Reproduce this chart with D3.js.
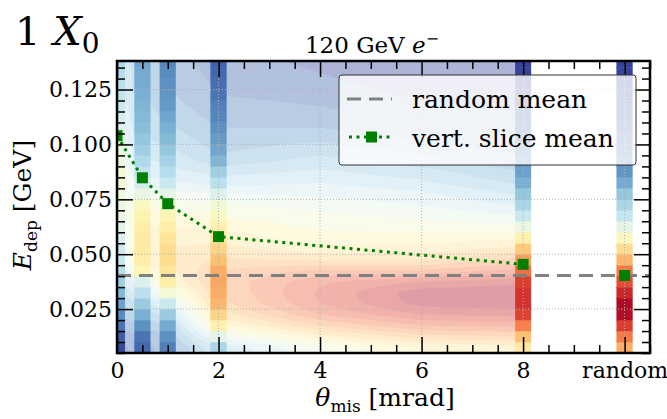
<!DOCTYPE html>
<html>
<head>
<meta charset="utf-8">
<script src="https://cdn.jsdelivr.net/npm/d3@7"></script>
<style>
  body { margin: 0; background: #fff; }
  text { font-family: "DejaVu Serif", serif; fill: #000; }
</style>
</head>
<body>
<div id="chart"></div>
<script>
// energy bins (GeV), bottom to top
const binEdges = [0.005, 0.010, 0.015, 0.020, 0.025, 0.030, 0.035, 0.040, 0.045, 0.050,
  0.055, 0.060, 0.065, 0.070, 0.075, 0.080, 0.085, 0.090, 0.095, 0.100,
  0.105, 0.110, 0.115, 0.120, 0.125, 0.130, 0.135, 0.140]

// colour level (0..1) per bin for every measured slice
const slice0 = [0.03, 0.06, 0.10, 0.14, 0.18, 0.23, 0.28, 0.32, 0.35, 0.37, 0.39, 0.41, 0.43, 0.44,
  0.45, 0.46, 0.46, 0.45, 0.44, 0.42, 0.40, 0.38, 0.36, 0.34, 0.33, 0.32, 0.31]
const slice05 = [0.08, 0.10, 0.15, 0.21, 0.27, 0.33, 0.40, 0.52, 0.55, 0.56, 0.56, 0.55, 0.53, 0.50,
  0.43, 0.38, 0.34, 0.31, 0.28, 0.26, 0.24, 0.23, 0.22, 0.21, 0.20, 0.20, 0.19]
const slice1 = [0.12, 0.15, 0.20, 0.27, 0.36, 0.46, 0.55, 0.58, 0.60, 0.60, 0.58, 0.55, 0.52, 0.48,
  0.42, 0.36, 0.32, 0.29, 0.26, 0.23, 0.21, 0.19, 0.17, 0.16, 0.15, 0.14, 0.13]
const slice2 = [0.30, 0.42, 0.54, 0.62, 0.68, 0.70, 0.71, 0.70, 0.66, 0.62, 0.58, 0.54, 0.50, 0.46,
  0.40, 0.33, 0.28, 0.22, 0.19, 0.17, 0.15, 0.13, 0.12, 0.10, 0.09, 0.08, 0.07]
const slice8 = [0.56, 0.66, 0.77, 0.87, 0.90, 0.90, 0.88, 0.80, 0.72, 0.64, 0.54, 0.44, 0.36, 0.30,
  0.26, 0.21, 0.18, 0.15, 0.12, 0.10, 0.08, 0.06, 0.05, 0.04, 0.03, 0.02, 0.02]
const sliceRandom = [0.70, 0.78, 0.88, 0.97, 0.98, 0.92, 0.85, 0.78, 0.68, 0.60, 0.50, 0.42, 0.35, 0.30,
  0.26, 0.20, 0.16, 0.13, 0.11, 0.09, 0.07, 0.05, 0.04, 0.03, 0.02, 0.02, 0.02]

// background (interpolated scan) columns
const bg4 = [0.45, 0.58, 0.70, 0.80, 0.85, 0.86, 0.84, 0.76, 0.64, 0.57, 0.52, 0.49, 0.46, 0.43,
  0.39, 0.35, 0.31, 0.27, 0.23, 0.19, 0.15, 0.12, 0.10, 0.08, 0.06, 0.05, 0.04]
const bg6 = [0.55, 0.68, 0.80, 0.90, 0.97, 0.98, 0.90, 0.76, 0.64, 0.57, 0.52, 0.48, 0.44, 0.40,
  0.36, 0.31, 0.27, 0.22, 0.18, 0.14, 0.11, 0.08, 0.06, 0.04, 0.03, 0.02, 0.02]
const bg8 = [0.58, 0.70, 0.82, 0.92, 0.98, 0.99, 0.94, 0.82, 0.72, 0.62, 0.54, 0.46, 0.40, 0.34,
  0.29, 0.24, 0.20, 0.16, 0.13, 0.10, 0.08, 0.06, 0.04, 0.03, 0.02, 0.02, 0.02]

const sliceX = [0, 0.5, 1, 2, 8, 10]
const sliceVals = [slice0, slice05, slice1, slice2, slice8, sliceRandom]
const bgX = [0, 0.5, 1, 2, 4, 6, 8]
const bgVals = [slice0, slice05, slice1, slice2, bg4, bg6, bg8]

// vertical slice means and random mean
const meanX = [0, 0.5, 1, 2, 8]
const meanY = [0.104, 0.0848, 0.073, 0.058, 0.0454]
const randomX = 10
const randomMean = 0.0403

const xTicks = [0, 2, 4, 6, 8, 10]
const xTickLabels = ['0', '2', '4', '6', '8', 'random']
const yTicks = [0.025, 0.05, 0.075, 0.1, 0.125]

const W = 667, H = 419
const margin = { top: 61, left: 117, right: 17, bottom: 66 }
const width = W - margin.left - margin.right
const height = H - margin.top - margin.bottom

const x = d3.scaleLinear().domain([0, 10.5]).range([0, width])
const y = d3.scaleLinear().domain([0.005, 0.138]).range([height, 0])
const color = t => d3.interpolateRdYlBu(1 - Math.max(0, Math.min(1, t)))

const svg = d3.select('#chart').append('svg').attr('width', W).attr('height', H)
const defs = svg.append('defs')
defs.append('clipPath').attr('id', 'plot')
  .append('rect').attr('width', width).attr('height', height)
defs.append('clipPath').attr('id', 'bgclip')
  .append('rect').attr('x', x(0)).attr('width', x(8) - x(0)).attr('height', height)

const g = svg.append('g').attr('transform', 'translate(' + margin.left + ',' + margin.top + ')')

// ---- background: contour fill of the scan, drawn at alpha 0.4
const centres = binEdges.slice(0, -1).map((e, i) => (e + binEdges[i + 1]) / 2)
function colAt(vals, yy) {
  if (yy <= centres[0]) return vals[0]
  if (yy >= centres[centres.length - 1]) return vals[vals.length - 1]
  const i = d3.bisectRight(centres, yy) - 1
  const t = (yy - centres[i]) / (centres[i + 1] - centres[i])
  return vals[i] * (1 - t) + vals[i + 1] * t
}
function bgAt(xx, yy) {
  let k = d3.bisectRight(bgX, xx) - 1
  k = Math.max(0, Math.min(bgX.length - 2, k))
  const t = (xx - bgX[k]) / (bgX[k + 1] - bgX[k])
  return colAt(bgVals[k], yy) * (1 - t) + colAt(bgVals[k + 1], yy) * t
}
const gdx = 0.05, gdy = 0.001
const gx = d3.range(0, 8 + gdx / 2, gdx)
const gy = d3.range(0.004, 0.1395, gdy)
const values = []
gy.forEach(yy => gx.forEach(xx => values.push(bgAt(xx, yy))))
const levels = [-1].concat(d3.range(1, 20).map(i => i / 20))
const contours = d3.contours().size([gx.length, gy.length]).thresholds(levels)(values)
const proj = d3.geoTransform({
  point: function(px, py) {
    this.stream.point(x(gx[0] + (px - 0.5) * gdx), y(gy[0] + (py - 0.5) * gdy))
  }
})
const cpath = d3.geoPath(proj)
g.append('g')
  .attr('clip-path', 'url(#bgclip)')
  .attr('opacity', 0.4)
  .selectAll('path')
  .data(contours)
  .join('path')
  .attr('d', cpath)
  .attr('fill', d => color(d.value < 0 ? 0.025 : d.value + 0.025))

// ---- measured slices
const hw = 0.155
const sg = g.append('g').attr('clip-path', 'url(#plot)')
sliceVals.forEach((vals, s) => {
  sg.append('g')
    .selectAll('rect')
    .data(vals)
    .join('rect')
    .attr('x', x(sliceX[s] - hw))
    .attr('width', x(sliceX[s] + hw) - x(sliceX[s] - hw))
    .attr('y', (d, i) => y(binEdges[i + 1]))
    .attr('height', (d, i) => y(binEdges[i]) - y(binEdges[i + 1]))
    .attr('fill', d => color(d))
    .attr('stroke', d => color(d))
    .attr('stroke-width', 0.4)
})

// ---- grid
const grid = g.append('g').attr('clip-path', 'url(#plot)')
  .attr('stroke', '#b0b0b0').attr('stroke-width', 1).attr('stroke-dasharray', '1,2')
grid.selectAll('.gx').data(xTicks).join('line')
  .attr('x1', d => x(d)).attr('x2', d => x(d)).attr('y1', 0).attr('y2', height)
grid.selectAll('.gy').data(yTicks).join('line')
  .attr('y1', d => y(d)).attr('y2', d => y(d)).attr('x1', 0).attr('x2', width)

// ---- random mean line
g.append('line')
  .attr('x1', 0).attr('x2', width)
  .attr('y1', y(randomMean)).attr('y2', y(randomMean))
  .attr('stroke', '#808080').attr('stroke-width', 3).attr('stroke-dasharray', '14,8')

// ---- slice means
const mg = g.append('g').attr('clip-path', 'url(#plot)')
const line = d3.line().x(d => x(d[0])).y(d => y(d[1]))
mg.append('path')
  .datum(meanX.map((d, i) => [d, meanY[i]]))
  .attr('d', line)
  .attr('fill', 'none')
  .attr('stroke', 'green')
  .attr('stroke-width', 3)
  .attr('stroke-dasharray', '3,4.5')
const pts = meanX.map((d, i) => [d, meanY[i]]).concat([[randomX, randomMean]])
mg.selectAll('rect.mk').data(pts).join('rect')
  .attr('x', d => x(d[0]) - 5.5).attr('y', d => y(d[1]) - 5.5)
  .attr('width', 11).attr('height', 11)
  .attr('fill', 'green')

// ---- axes (ticks inward on all sides)
const xMinor = d3.range(0, 10.5001, 0.5).filter(v => xTicks.indexOf(v) < 0)
const yMinor = d3.range(1, 28).map(i => i * 0.005).filter(v => !yTicks.some(t => Math.abs(t - v) < 1e-9))

function styleAxis(sel) {
  sel.select('.domain').remove()
  sel.selectAll('.tick line').attr('stroke', '#000').attr('stroke-width', 1.5)
  sel.selectAll('.tick text').style('font-size', '22px').attr('font-family', 'DejaVu Serif')
}

g.append('g').attr('transform', 'translate(0,' + height + ')')
  .call(d3.axisBottom(x).tickValues(xTicks).tickFormat((d, i) => xTickLabels[i]).tickSize(-16).tickPadding(9))
  .call(styleAxis)
g.append('g').attr('transform', 'translate(0,' + height + ')')
  .call(d3.axisBottom(x).tickValues(xMinor).tickFormat('').tickSize(-8))
  .call(styleAxis)
g.append('g')
  .call(d3.axisTop(x).tickValues(xTicks).tickFormat('').tickSize(-16))
  .call(styleAxis)
g.append('g')
  .call(d3.axisTop(x).tickValues(xMinor).tickFormat('').tickSize(-8))
  .call(styleAxis)

g.append('g')
  .call(d3.axisLeft(y).tickValues(yTicks).tickFormat(d3.format('.3f')).tickSize(-16).tickPadding(5))
  .call(styleAxis)
g.append('g')
  .call(d3.axisLeft(y).tickValues(yMinor).tickFormat('').tickSize(-8))
  .call(styleAxis)
g.append('g').attr('transform', 'translate(' + width + ',0)')
  .call(d3.axisRight(y).tickValues(yTicks).tickFormat('').tickSize(-16))
  .call(styleAxis)
g.append('g').attr('transform', 'translate(' + width + ',0)')
  .call(d3.axisRight(y).tickValues(yMinor).tickFormat('').tickSize(-8))
  .call(styleAxis)

// ---- legend
const lg = svg.append('g').attr('transform', 'translate(339,75)')
lg.append('rect')
  .attr('width', 297).attr('height', 90).attr('rx', 3)
  .attr('fill', '#fff').attr('fill-opacity', 0.8)
  .attr('stroke', '#333').attr('stroke-width', 1)
lg.append('line')
  .attr('x1', 8).attr('x2', 53).attr('y1', 24).attr('y2', 24)
  .attr('stroke', '#808080').attr('stroke-width', 3).attr('stroke-dasharray', '14,8')
lg.append('text').attr('x', 73).attr('y', 33).style('font-size', '25px').text('random mean')
lg.append('line')
  .attr('x1', 10).attr('x2', 55).attr('y1', 62).attr('y2', 62)
  .attr('stroke', 'green').attr('stroke-width', 3).attr('stroke-dasharray', '3,4.5')
lg.append('rect')
  .attr('x', 27).attr('y', 56.5).attr('width', 11).attr('height', 11).attr('fill', 'green')
lg.append('text').attr('x', 73).attr('y', 72).style('font-size', '25px').text('vert. slice mean')

// ---- frame
g.append('rect')
  .attr('width', width).attr('height', height)
  .attr('fill', 'none').attr('stroke', '#000').attr('stroke-width', 2.5)

// ---- texts
const yl = svg.append('text')
  .attr('transform', 'translate(31,' + (margin.top + height / 2 - 2) + ') rotate(-90)')
  .attr('text-anchor', 'middle')
  .style('font-size', '25px')
yl.append('tspan').attr('font-style', 'italic').text('E')
yl.append('tspan').attr('dy', 6).style('font-size', '17px').text('dep')
yl.append('tspan').attr('dy', -6).text(' [GeV]')

const xl = svg.append('text')
  .attr('x', 385).attr('y', 406)
  .attr('text-anchor', 'middle')
  .style('font-size', '25px')
xl.append('tspan').attr('font-style', 'italic').text('θ')
xl.append('tspan').attr('dy', 6).style('font-size', '17px').text('mis')
xl.append('tspan').attr('dy', -6).text(' [mrad]')

const tt = svg.append('text')
  .attr('x', 372).attr('y', 53)
  .attr('text-anchor', 'middle')
  .style('font-size', '23px')
tt.append('tspan').text('120 GeV ')
tt.append('tspan').attr('font-style', 'italic').text('e')
tt.append('tspan').attr('dy', -9).style('font-size', '16px').text('−')

const st = svg.append('text')
  .attr('x', 15).attr('y', 45)
  .style('font-size', '40px')
st.append('tspan').text('1 ')
st.append('tspan').attr('font-style', 'italic').text('X')
st.append('tspan').attr('dy', 8).style('font-size', '28px').text('0')
</script>
</body>
</html>
